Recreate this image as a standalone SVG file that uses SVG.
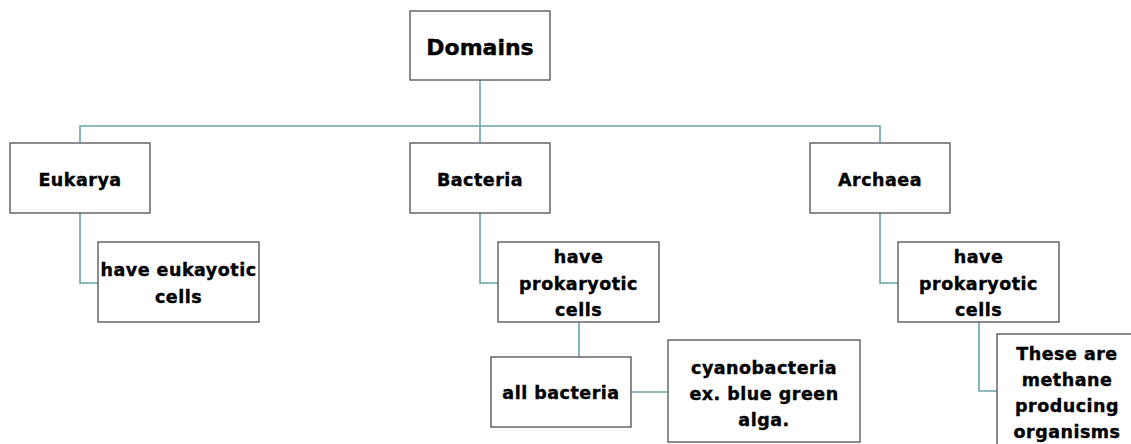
<svg xmlns="http://www.w3.org/2000/svg" width="1131" height="444" viewBox="0 0 1131 444">
<style>
.box{fill:#fff;stroke:#5a5a62;stroke-width:1.4}
.t{font-family:"DejaVu Sans",Verdana,sans-serif;font-weight:bold;fill:#000;stroke:#000;stroke-width:0.4;text-anchor:middle;font-size:17.5px;letter-spacing:0.5px}
.conn{fill:none;stroke:#6aa4a8;stroke-width:1.6}
</style>
<rect width="1131" height="444" fill="#fff"/>
<g id="connectors" class="conn">
<path d="M480,80V126M80,143V126H880V143M480,126V143"/>
<path d="M80,213V283H98"/>
<path d="M480,213V283H498"/>
<path d="M880,213V283H898"/>
<path d="M579,322V357"/>
<path d="M631,392H668"/>
<path d="M979,322V391H997"/>
</g>
<g id="domains"><rect class="box" x="410" y="11" width="140" height="69"/><text class="t" x="480" y="55" style="font-size:22px;letter-spacing:0">Domains</text></g>
<g id="eukarya"><rect class="box" x="10" y="143" width="140" height="70"/><text class="t" x="80" y="186">Eukarya</text></g>
<g id="bacteria"><rect class="box" x="410" y="143" width="140" height="70"/><text class="t" x="480" y="186">Bacteria</text></g>
<g id="archaea"><rect class="box" x="810" y="143" width="140" height="70"/><text class="t" x="880" y="186">Archaea</text></g>
<g id="euk-cells"><rect class="box" x="98" y="242" width="161" height="80"/><text class="t" x="178.5" y="276">have eukayotic</text><text class="t" x="178.5" y="303">cells</text></g>
<g id="bac-cells"><rect class="box" x="498" y="242" width="161" height="80"/><text class="t" x="578.5" y="263">have</text><text class="t" x="578.5" y="290">prokaryotic</text><text class="t" x="578.5" y="316">cells</text></g>
<g id="arc-cells"><rect class="box" x="898" y="242" width="161" height="80"/><text class="t" x="978.5" y="263">have</text><text class="t" x="978.5" y="290">prokaryotic</text><text class="t" x="978.5" y="316">cells</text></g>
<g id="all-bacteria"><rect class="box" x="491" y="357" width="140" height="70"/><text class="t" x="561" y="399">all bacteria</text></g>
<g id="cyano"><rect class="box" x="668" y="340" width="192" height="102"/><text class="t" x="764" y="374">cyanobacteria</text><text class="t" x="764" y="400">ex. blue green</text><text class="t" x="764" y="426">alga.</text></g>
<g id="methane"><rect class="box" x="997" y="334" width="140" height="115"/><text class="t" x="1067" y="360">These are</text><text class="t" x="1067" y="386">methane</text><text class="t" x="1067" y="412">producing</text><text class="t" x="1067" y="438">organisms</text></g>
</svg>
